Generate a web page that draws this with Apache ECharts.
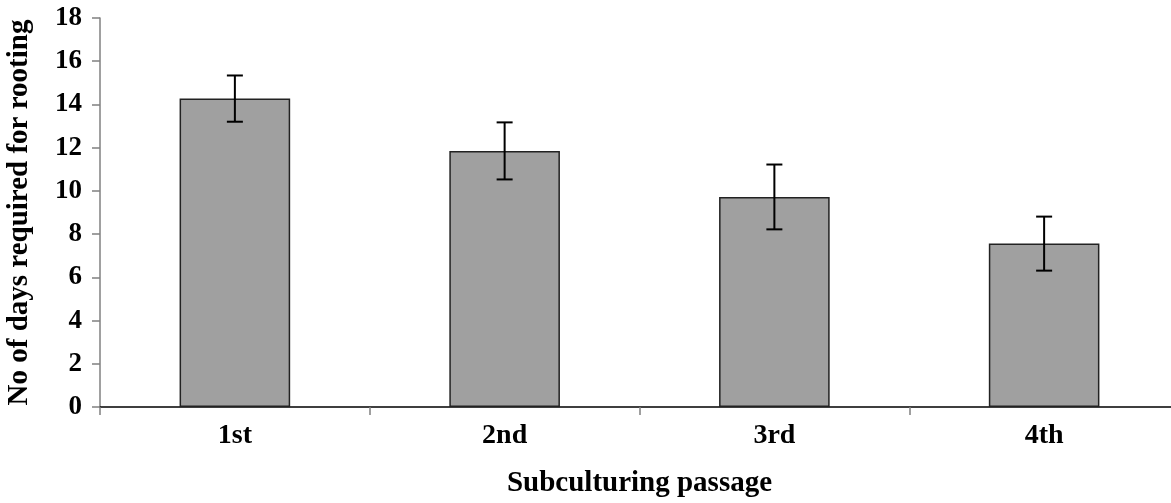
<!DOCTYPE html>
<html>
<head>
<meta charset="utf-8">
<script src="https://cdn.jsdelivr.net/npm/echarts@6/dist/echarts.min.js"></script>
<style>html,body{margin:0;padding:0;background:#fff;}#c{width:1171px;height:503px;}</style>
</head>
<body>
<div id="c"></div>
<script>
const categories = ['1st', '2nd', '3rd', '4th'];
const means = [14.27, 11.85, 9.72, 7.56];
const errors = [1.07, 1.32, 1.5, 1.25];
const yTicks = [0, 2, 4, 6, 8, 10, 12, 14, 16, 18];

const chart = echarts.init(document.getElementById('c'));
const font = '"Liberation Serif", "Times New Roman", serif';
chart.setOption({
  animation: false,
  grid: { left: 100, right: -8, top: 18, bottom: 96, containLabel: false, outerBoundsMode: 'none' },
  xAxis: {
    type: 'category',
    data: categories,
    name: 'Subculturing passage',
    nameLocation: 'middle',
    nameGap: 62,
    nameTextStyle: { fontFamily: font, fontWeight: 'bold', fontSize: 29, color: '#000' },
    axisLine: { lineStyle: { color: '#000', width: 1.5 } },
    axisTick: { show: true, length: 8, lineStyle: { color: '#808080', width: 1.5 } },
    axisLabel: { fontFamily: font, fontWeight: 'bold', fontSize: 28, color: '#000', margin: 15 }
  },
  yAxis: {
    type: 'value',
    min: 0, max: 18, interval: 2,
    name: 'No of days required for rooting',
    nameLocation: 'middle',
    nameGap: 66,
    nameTextStyle: { fontFamily: font, fontWeight: 'bold', fontSize: 29, color: '#000' },
    axisLine: { show: true, lineStyle: { color: '#808080', width: 1.5 } },
    axisTick: { show: true, length: 8, lineStyle: { color: '#808080', width: 1.5 } },
    splitLine: { show: false },
    axisLabel: {
      fontFamily: font, fontWeight: 'bold', fontSize: 27, color: '#000', margin: 18,
      formatter: v => yTicks.includes(v) ? String(v) : ''
    }
  },
  series: [
    {
      type: 'bar',
      data: means,
      barWidth: '41%',
      itemStyle: { color: '#a0a0a0', borderColor: '#222', borderWidth: 1.5 }
    },
    {
      type: 'custom',
      data: means.map((m, i) => [i, m - errors[i], m + errors[i]]),
      renderItem: function (params, api) {
        const x = api.coord([api.value(0), 0])[0];
        const lo = api.coord([api.value(0), api.value(1)])[1];
        const hi = api.coord([api.value(0), api.value(2)])[1];
        const hw = 8;
        const style = { stroke: '#000', lineWidth: 2 };
        return {
          type: 'group',
          children: [
            { type: 'line', shape: { x1: x, y1: lo, x2: x, y2: hi }, style },
            { type: 'line', shape: { x1: x - hw, y1: lo, x2: x + hw, y2: lo }, style },
            { type: 'line', shape: { x1: x - hw, y1: hi, x2: x + hw, y2: hi }, style }
          ]
        };
      },
      z: 10
    }
  ]
});
</script>
</body>
</html>
